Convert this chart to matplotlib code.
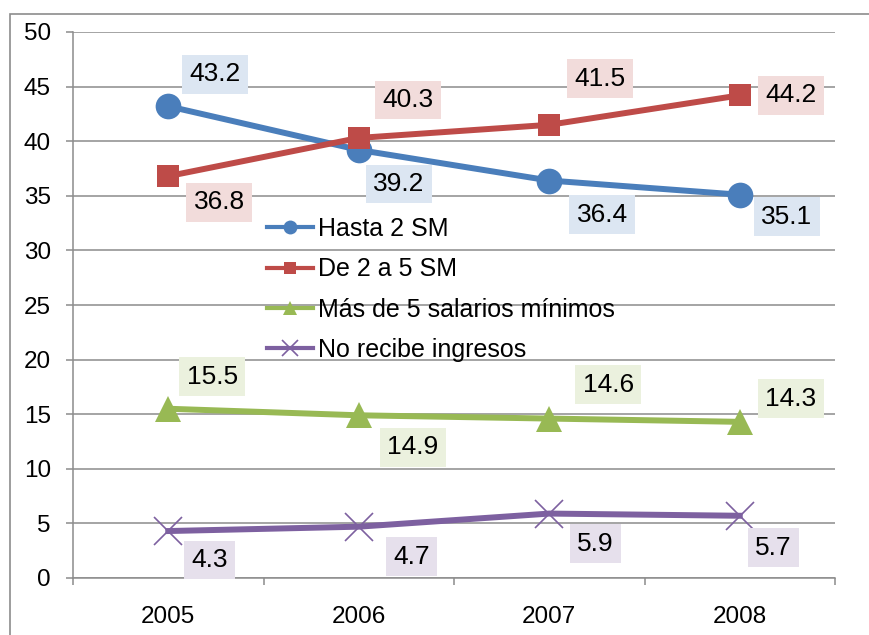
import numpy as np
import matplotlib
matplotlib.use('Agg')
import matplotlib.pyplot as plt
from matplotlib.patches import Rectangle

plt.rcParams['font.family'] = ['Liberation Sans', 'DejaVu Sans']

years = ['2005', '2006', '2007', '2008']
hasta_2sm = [43.2, 39.2, 36.4, 35.1]
de_2a5sm = [36.8, 40.3, 41.5, 44.2]
mas_5sm = [15.5, 14.9, 14.6, 14.3]
no_recibe = [4.3, 4.7, 5.9, 5.7]
series_names = ['Hasta 2 SM', 'De 2 a 5 SM', 'Más de 5 salarios mínimos', 'No recibe ingresos']

# styles: line colour, label box colour, marker, marker size
styles = [
    ('#4A7EBB', '#DCE6F2', 'o', 18.5),
    ('#BE4B48', '#F2DCDB', 's', 16),
    ('#98B954', '#EBF1DE', '^', 19),
    ('#7D60A0', '#E6E0EC', 'x', 20),
]
# where the data labels sit relative to each point (pixels)
label_offsets = [
    [(47, 32), (40, -34), (53, -34), (47, -22)],
    [(51, -26), (49, 38), (51, 46), (51, 0)],
    [(44, 32), (54, -32), (59, 34), (51, 23)],
    [(41, -29), (53, -30), (46, -30), (34, -32)],
]

fig = plt.figure(figsize=(8.7, 6.35), dpi=100)
ax = fig.add_axes([73/870, 57/635, 762/870, 546/635])

x = np.arange(len(years))
all_series = [hasta_2sm, de_2a5sm, mas_5sm, no_recibe]
for vals, name, (col, bg, mk, ms), offs in zip(all_series, series_names, styles, label_offsets):
    if mk == 'x':
        ax.plot(x, vals, color=col, lw=4.3, marker=mk, ms=ms, mew=1.2,
                label=name, zorder=3, clip_on=False)
    else:
        ax.plot(x, vals, color=col, lw=4.3, marker=mk, ms=ms, mec=col, mew=0,
                label=name, zorder=3, clip_on=False)
    for xi, v, (dx, dy) in zip(x, vals, offs):
        ax.annotate(f'{v:.1f}', (xi, v), xytext=(dx, dy), textcoords='offset pixels',
                    ha='center', va='center', fontsize=19,
                    bbox=dict(boxstyle='square,pad=0.28', fc=bg, ec='none'), zorder=4)

ax.set_xlim(-0.5, 3.5)
ax.set_ylim(0, 50)
ax.set_yticks(range(0, 51, 5))
ax.set_xticks(np.arange(-0.5, 3.6, 1))
ax.set_xticklabels([])
ax.set_xticks(x, minor=True)
ax.set_xticklabels(years, minor=True)
ax.tick_params(axis='x', which='major', length=5, width=1.1, color='#8c8c8c', direction='out')
ax.tick_params(axis='x', which='minor', length=0, pad=20, labelsize=17.5)
ax.tick_params(axis='y', length=5, width=1.1, color='#8c8c8c', pad=11, labelsize=17.5)
ax.grid(axis='y', color='#8c8c8c', lw=1.1)
ax.set_axisbelow(True)
for s in ['top', 'right']:
    ax.spines[s].set_visible(False)
for s in ['left', 'bottom']:
    ax.spines[s].set_color('#8c8c8c')
    ax.spines[s].set_linewidth(1.1)

leg = ax.legend(loc='upper left', bbox_to_anchor=(0.2546, 0.661), frameon=False,
                fontsize=18, handlelength=1.85, handletextpad=0.2, labelspacing=0.65,
                borderpad=0, borderaxespad=0)
for h, sz in zip(leg.legend_handles, [10, 8, 10, 11]):
    h.set_markersize(sz)
    h.set_linewidth(3)

fig.patches.append(Rectangle((10/870, -0.05), 1.0, (635 - 14)/635 + 0.05,
                             transform=fig.transFigure, fill=False,
                             ec='#8c8c8c', lw=1.2))

fig.savefig('out.png', dpi=100)
